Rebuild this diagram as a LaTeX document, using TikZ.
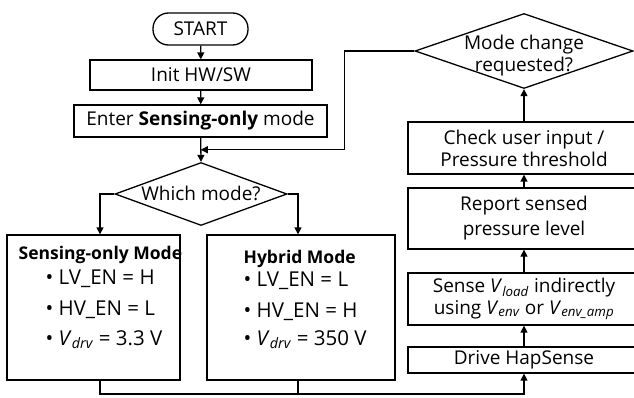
\documentclass[tikz,border=0pt]{standalone}
\usepackage{fontspec}
\setmainfont{Open Sans}
\usetikzlibrary{shapes.geometric,arrows.meta,calc}
\newcommand{\vsub}[1]{\textit{V}\textsubscript{\textit{#1}}}
\begin{document}
\begin{tikzpicture}[x=1pt,y=-1pt,
  line width=1.3pt,
  txt/.style={font=\fontsize{19}{22}\selectfont, align=center, inner sep=0pt},
  box/.style={draw, txt, rectangle},
  dia/.style={draw, diamond, shape aspect=2, inner sep=0pt},
  ttl/.style={font=\fontsize{17.5}{20}\selectfont\bfseries, inner sep=0pt, anchor=base west},
  bul/.style={font=\fontsize{20.5}{22}\selectfont, inner sep=0pt, anchor=base west},
  arr/.style={-{Triangle[length=7pt,width=7pt]}}
]
\useasboundingbox (0,0) rectangle (634,398);
\clip (0,0) rectangle (634,398);
% left column
\node[box, rounded corners=15.5pt, minimum width=95pt, minimum height=32pt] (start) at (200.5,29) {START};
\node[box, minimum width=222pt, minimum height=30pt] (init) at (201,75) {Init HW/SW};
\node[box, minimum width=253pt, minimum height=32pt] (enter) at (200.5,121) {Enter \textbf{Sensing-only} mode};
\node[dia, minimum width=172pt, minimum height=63pt] (which) at (201,194) {};
\node[txt] (whicht) at (201,193) {Which mode?};
\node[box, minimum width=173pt, minimum height=145pt] (lbox) at (93.5,307.5) {};
\node[box, minimum width=188pt, minimum height=145pt] (rbox) at (301,307.5) {};
\node[ttl] (lt) at (18,259) {Sensing-only Mode};
\node[bul] (l1) at (45,284) {• LV\_EN = H};
\node[bul] (l2) at (45,315) {• HV\_EN = L};
\node[bul] (l3) at (45,345) {• \vsub{drv} = 3.3 V};
\node[ttl] (rt) at (243,263) {Hybrid Mode};
\node[bul] (r1) at (243,286) {• LV\_EN = L};
\node[bul] (r2) at (243,317) {• HV\_EN = H};
\node[bul] (r3) at (243,345) {• \vsub{drv} = 350 V};
% right column
\node[dia, minimum width=218pt, minimum height=75pt] (mode) at (524,51) {};
\node[txt] (modet) at (524,56) {Mode change\\requested?};
\node[box, minimum width=232pt, minimum height=52pt] (check) at (524,148) {Check user input /\\Pressure threshold};
\node[box, minimum width=232pt, minimum height=61pt, font=\fontsize{19}{25}\selectfont] (report) at (524,218.5) {Report sensed\\pressure level};
\node[box, minimum width=232pt, minimum height=52pt] (sense) at (524,299) {Sense \vsub{load} indirectly\\using \vsub{env} or \vsub{env\_amp}};
\node[box, minimum width=232pt, minimum height=26pt] (drive) at (524,360) {Drive HapSense};
% coordinates
\coordinate (join) at ($(enter.south)!0.5!(which.north)$);
\coordinate (lin) at ($(lbox.north)+(6.5,0)$);
\coordinate (rin) at ($(rbox.north)+(-3,0)$);
\coordinate (lout) at ($(lbox.south)+(6.5,0)$);
\coordinate (rout) at ($(rbox.south)+(-3,0)$);
\coordinate (bot) at (524,394);
% connectors
\draw[arr] (start) -- (init);
\draw[arr] (init) -- (enter);
\draw[arr] (enter) -- (which.north);
\draw[arr] (which.west) -| (lin);
\draw[arr] (which.east) -| (rin);
\draw[arr] (lout) |- (bot) -- (drive.south);
\draw (rout) -- (rout |- bot);
\draw[arr] (drive) -- (sense);
\draw[arr] (sense) -- (report);
\draw[arr] (report) -- (check);
\draw[arr] (check) -- (mode.south);
\draw[arr] (mode.west) -- ++(-70,0) |- (join);
\end{tikzpicture}
\end{document}
